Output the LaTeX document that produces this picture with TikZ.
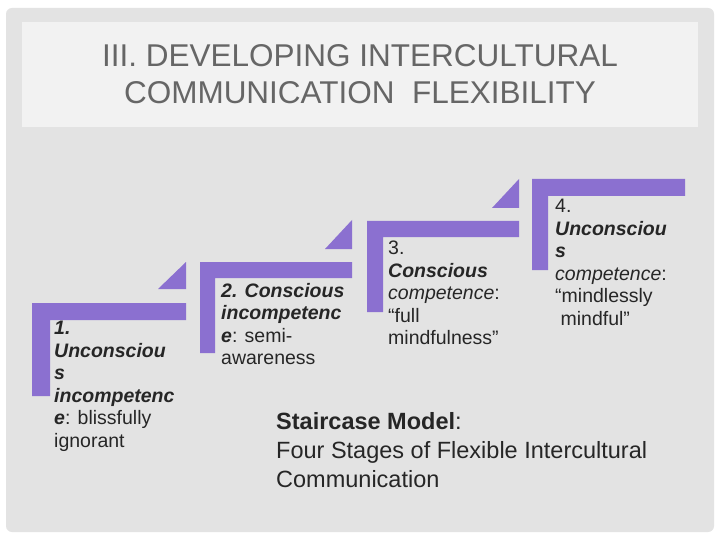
\documentclass[tikz,border=0pt]{standalone}
\usepackage{fontspec}
\setmainfont{Liberation Sans}
\begin{document}
\begin{tikzpicture}[x=1pt,y=-1pt,
  stp/.style={fill=stair,draw=none},
  lbl/.style={anchor=north west,align=left,font=\fontsize{19.5}{22.5}\selectfont,text=black!85,inner sep=0pt}]
\definecolor{stair}{HTML}{8B70D0}
\useasboundingbox (0,0) rectangle (720,540);
\fill[white] (0,0) rectangle (720,540);
\fill[gray!22,rounded corners=6] (6,8) rectangle (714,532);
\fill[gray!10] (22,22) rectangle (698,127);
\node[font=\fontsize{31.5}{37}\selectfont,text=black!60,align=center] (title) at (360,74) {III. DEVELOPING INTERCULTURAL\\COMMUNICATION\ \ FLEXIBILITY};
% step 1
\fill[stair] (32,303) -- (186,303) -- (186,320) -- (50,320) -- (50,396) -- (32,396) -- cycle;
\fill[stair] (158,289) -- (186,262) -- (186,289) -- cycle;
% step 2
\fill[stair] (200,262) -- (352,262) -- (352,278) -- (215,278) -- (215,353) -- (200,353) -- cycle;
\fill[stair] (325,249) -- (352,220) -- (352,249) -- cycle;
% step 3
\fill[stair] (367,221) -- (519,221) -- (519,237) -- (383,237) -- (383,312) -- (367,312) -- cycle;
\fill[stair] (492,208) -- (519,179) -- (519,208) -- cycle;
% step 4
\fill[stair] (532,179) -- (685,179) -- (685,196) -- (548,196) -- (548,270) -- (532,270) -- cycle;
\node[lbl] (s1) at (54,321) {\textbf{\textit{1.}}\\\textbf{\textit{Unconsciou}}\\\textbf{\textit{s}}\\\textbf{\textit{incompetenc}}\\\textbf{\textit{e}}: blissfully\\ignorant};
\node[lbl] (s2) at (221,283) {\textbf{\textit{2. Conscious}}\\\textbf{\textit{incompetenc}}\\\textbf{\textit{e}}: semi-\\awareness};
\node[lbl] (s3) at (388,241) {3.\\\textbf{\textit{Conscious}}\\\textit{competence}:\\“full\\mindfulness”};
\node[lbl] (s4) at (555,199) {4.\\\textbf{\textit{Unconsciou}}\\\textbf{\textit{s}}\\\textit{competence}:\\“mindlessly\\\ mindful”};
\node[anchor=north west,align=left,font=\fontsize{23.5}{29}\selectfont,text=black!85,inner sep=0pt] (cap) at (276,412) {\textbf{Staircase Model}:\\Four Stages of Flexible Intercultural\\Communication};
\end{tikzpicture}
\end{document}
